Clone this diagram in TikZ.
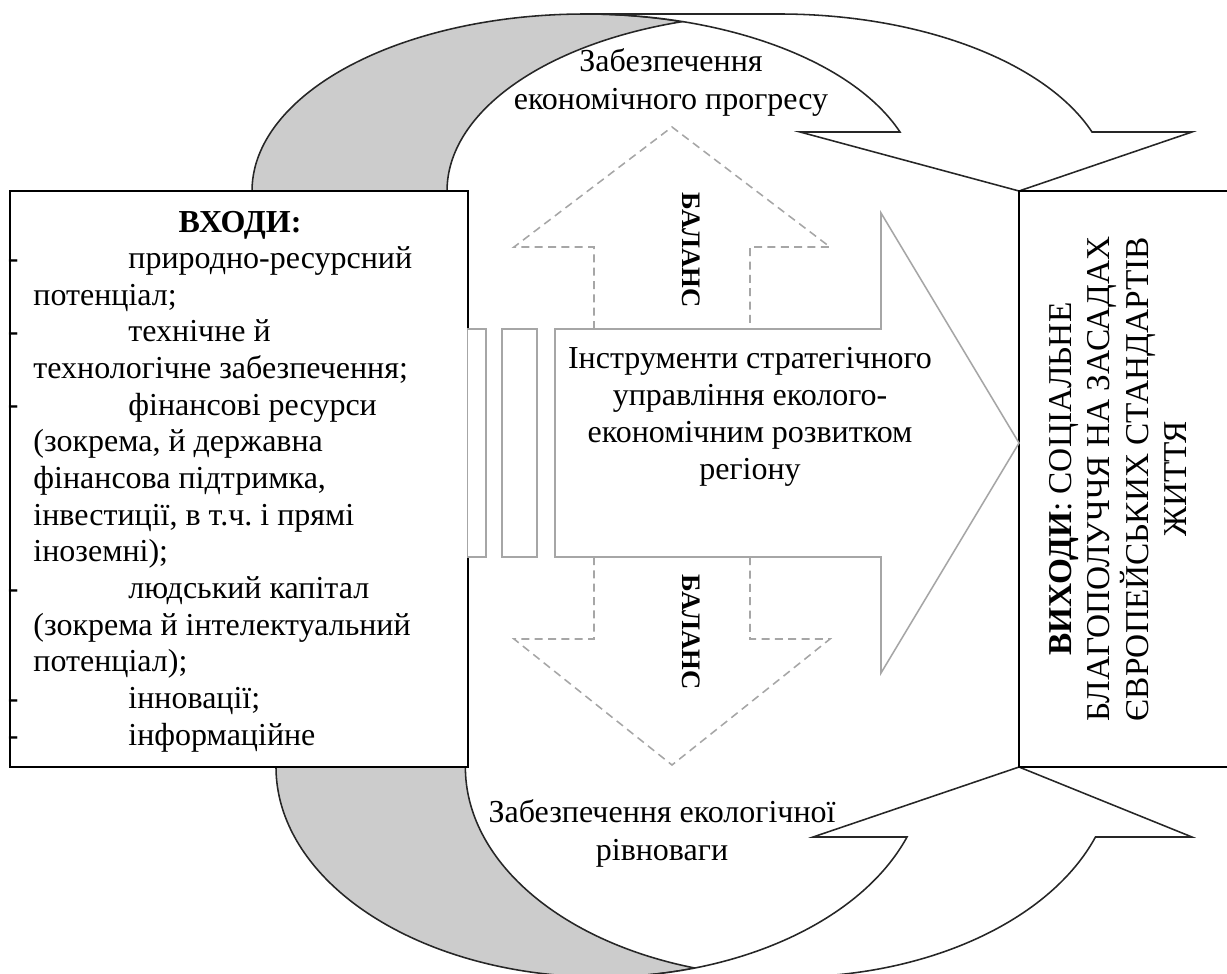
\documentclass[tikz,border=0pt]{standalone}
\usepackage{fontspec}
\setmainfont{Liberation Serif}
\usepackage{xcolor}
\usepackage{tikz}
\usetikzlibrary{calc}
\definecolor{backgray}{HTML}{CCCCCC}
\definecolor{arrowgray}{HTML}{A6A6A6}
\newcommand{\bodyfont}[2]{\fontsize{#1}{#2}\selectfont}
\frenchspacing

\begin{document}
\begin{tikzpicture}[x=0.45pt,y=0.45pt,
        curved/.style={draw=black!85,line width=0.7pt},
        framebox/.style={draw=black,line width=0.9pt,fill=white,inner sep=0pt},
        bigarrow/.style={draw=arrowgray,line width=0.7pt,fill=white},
        balancearrow/.style={draw=arrowgray,line width=0.7pt,dash pattern=on 3.6pt off 2.4pt},
        label/.style={inner sep=0pt,font=\bodyfont{14.4}{16.5pt}}]
        \useasboundingbox (0,0) rectangle (1227,-973);
        % upper curved arrow
        \filldraw[curved,fill=backgray] (252,-191) arc[start angle=180,end angle=73.06,x radius=333,y radius=177]
            arc[start angle=106.99,end angle=180,x radius=332,y radius=177] -- cycle;
        \filldraw[curved,fill=white] (585,-14) -- (779,-14) arc[start angle=90,end angle=19.47,x radius=332,y radius=177]
            -- (1192,-132) -- (1019,-191) -- (800,-132) -- (900,-132)
            arc[start angle=19.47,end angle=90,x radius=333,y radius=177] -- cycle;
        % lower curved arrow
        \filldraw[curved,fill=backgray] (276,-767) arc[start angle=180,end angle=286.8,x radius=325,y radius=210]
            arc[start angle=253.05,end angle=180,x radius=324,y radius=210] -- cycle;
        \filldraw[curved,fill=white] (601,-977) -- (790,-977) arc[start angle=270,end angle=340.53,x radius=324,y radius=210]
            -- (1192,-837) -- (1019,-767) -- (813,-837) -- (907,-837)
            arc[start angle=340.53,end angle=270,x radius=325,y radius=210] -- cycle;
        % boxes
        \node[framebox,minimum width=206.1pt,minimum height=259.2pt] (inputs) at (239,-479) {};
        \node[framebox,minimum width=99.9pt,minimum height=259.2pt] (outputs) at (1130,-479) {};
        % striped arrow
        \filldraw[bigarrow] (467.5,-329) rectangle (486,-557);
        \filldraw[bigarrow] (502,-329) rectangle (537,-557);
        \filldraw[bigarrow] (555,-329) -- (881,-329) -- (881,-213) -- (1019,-443) -- (881,-673) -- (881,-557) -- (555,-557) -- cycle;
        % balance arrows
        \draw[balancearrow] (594,-329) -- (594,-247) -- (514,-247) -- (672,-127) -- (830,-247) -- (750,-247) -- (750,-329);
        \draw[balancearrow] (594,-557) -- (594,-639) -- (514,-639) -- (672,-765) -- (830,-639) -- (750,-639) -- (750,-557);
        \node[label,font=\bodyfont{12}{14pt}\bfseries,rotate=-90] (balup) at (691,-250) {БАЛАНС};
        \node[label,font=\bodyfont{12}{14pt}\bfseries,rotate=-90] (baldown) at (691,-632) {БАЛАНС};
        % texts
        \node[label,font=\bodyfont{14.4}{16.5pt}\bfseries,anchor=base] (intitle) at (240,-232) {ВХОДИ:};
        \node[label,align=left,anchor=base west] (inlist) at (33,-745) {%
            \hspace*{42.75pt}природно-ресурсний\\
            потенціал;\\
            \hspace*{42.75pt}технічне й\\
            технологічне забезпечення;\\
            \hspace*{42.75pt}фінансові ресурси\\
            (зокрема, й державна\\
            фінансова підтримка,\\
            інвестиції, в т.ч. і прямі\\
            іноземні);\\
            \hspace*{42.75pt}людський капітал\\
            (зокрема й інтелектуальний\\
            потенціал);\\
            \hspace*{42.75pt}інновації;\\
            \hspace*{42.75pt}інформаційне};
        \begin{scope}
            \clip (inputs.south west) rectangle (inputs.north east);
            \foreach \k/\row in {1/0,2/2,3/4,4/9,5/12,6/13}
                \node[label,anchor=base east] (dash\k) at (19,-268-36.7*\row) {-};
        \end{scope}
        \node[label,align=center,anchor=base,font=\bodyfont{14.4}{17.1pt}] (econ) at (671,-110) {Забезпечення\\економічного прогресу};
        \node[label,align=center,anchor=base,font=\bodyfont{14.4}{17.1pt}] (ecol) at (662,-860) {Забезпечення екологічної\\рівноваги};
        \node[label,align=center,anchor=base,font=\bodyfont{14.4}{16.65pt}] (tools) at (750,-479) {Інструменти стратегічного\\управління еколого-\\економічним розвитком\\регіону};
        \node[label,align=center,rotate=90,font=\bodyfont{15}{17.3pt}] (outtext) at (1118,-479) {\textbf{ВИХОДИ}: СОЦІАЛЬНЕ\\БЛАГОПОЛУЧЧЯ НА ЗАСАДАХ\\ЄВРОПЕЙСЬКИХ СТАНДАРТІВ\\ЖИТТЯ};
    \end{tikzpicture}
\end{document}
